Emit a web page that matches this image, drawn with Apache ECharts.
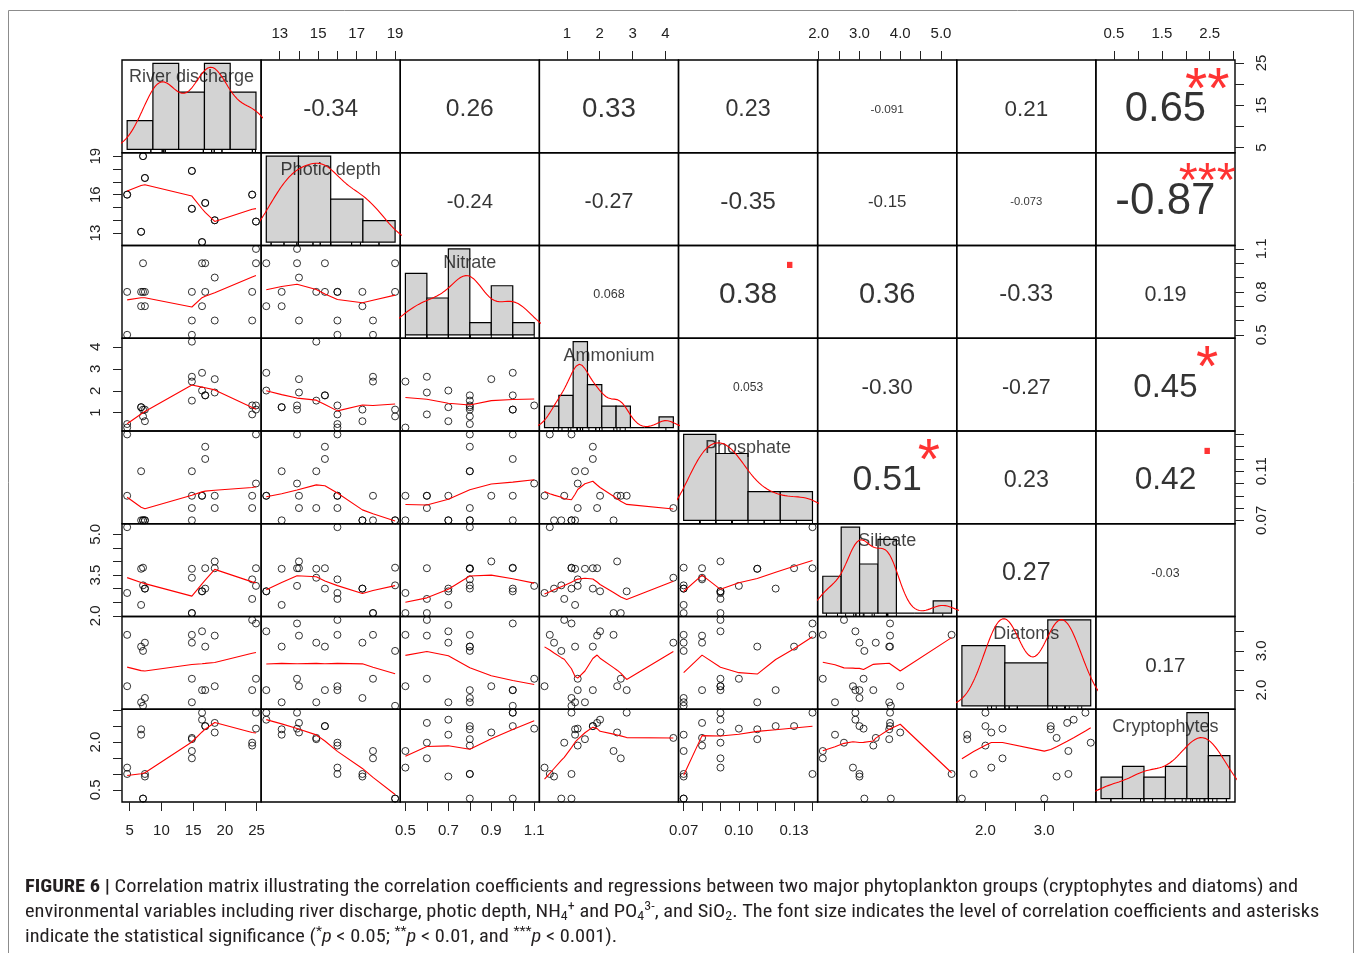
<!DOCTYPE html>
<html><head><meta charset="utf-8">
<script src="https://cdn.jsdelivr.net/npm/echarts@6.0.0/dist/echarts.min.js"></script>
<style>html,body{margin:0;padding:0;background:#fff}#c{width:1358px;height:953px}</style>
</head><body><div id="c"></div>
<script>
// ---------------- data (one value per sample) ----------------
const varNames = ['River discharge','Photic depth','Nitrate','Ammonium','Phosphate','Silicate','Diatoms','Cryptophytes'];
const riverDischarge = [16.4,16.4,24.9,24.9,18.4,18.4,16.9,16.9,6.8,6.8,14.8,14.8,24.3,24.3,14.8,14.8,4.6,4.6,7.4,7.4,7.1,7.1];
const photicDepth    = [12.3,12.3,13.9,13.9,14.0,14.0,15.35,15.35,13.1,13.1,14.9,14.9,16.0,16.0,17.85,17.85,16.0,16.0,17.3,17.3,19.0,19.0];
const nitrate        = [1.0,0.7,1.0,1.1,0.6,0.9,1.0,0.8,0.8,0.7,0.8,null,0.6,0.8,0.5,0.6,0.5,0.8,0.8,0.7,0.8,1.0];
const ammonium       = [2.82,2.01,1.14,1.33,1.92,2.53,1.79,1.79,1.25,1.25,1.55,4.24,0.92,1.33,2.42,2.64,0.32,0.48,1.14,0.61,0.83,1.14];
const phosphate      = [0.09,0.09,0.14,0.10,0.08,0.09,0.12,0.13,0.11,0.07,0.11,0.08,0.09,0.08,0.07,0.09,0.09,0.14,0.07,0.07,0.07,0.07];
const silicate       = [2.9,2.9,3.75,3.1,3.75,4.0,3.0,3.75,3.73,2.40,3.73,3.4,2.62,3.34,2.10,2.10,2.84,5.26,3.0,3.0,3.12,3.77];
const diatoms        = [2.0,3.50,3.70,2.29,3.39,2.10,2.0,3.11,3.11,1.69,1.69,3.21,3.79,2.0,3.41,2.29,2.10,3.41,1.80,3.21,3.0,1.60];
const cryptophytes   = [2.92,2.70,2.92,2.42,2.60,2.30,2.50,2.50,2.40,2.23,2.09,2.13,1.98,1.89,1.72,1.49,1.20,1.00,1.00,0.92,0.23,0.23];

// histogram breaks and counts (diagonal panels)
const riverBreaks = [0,5,10,15,20,25],                 riverCounts = [2,6,4,6,4];
const photicBreaks = [12,14,16,18,20],                 photicCounts = [8,8,4,2];
const nitrateBreaks = [0.5,0.6,0.7,0.8,0.9,1.0,1.1],   nitrateCounts = [5,3,7,1,4,1];
const ammoniumBreaks = [0,0.5,1,1.5,2,2.5,3,3.5,4,4.5], ammoniumCounts = [2,3,8,4,2,2,0,0,1];
const phosphateBreaks = [0.06,0.08,0.10,0.12,0.14],    phosphateCounts = [9,7,3,3];
const silicateBreaks = [2,2.5,3,3.5,4,4.5,5,5.5],      silicateCounts = [3,7,4,6,0,0,1];
const diatomsBreaks = [1,2,3,4],                       diatomsCounts = [7,5,10];
const cryptoBreaks = [0,0.5,1,1.5,2,2.5,3],            cryptoCounts = [2,3,2,3,8,4];

// correlation coefficients (upper triangle, row by row) and significance marks
const corrRow1 = ['-0.34','0.26','0.33','0.23','-0.091','0.21','0.65'];
const corrRow2 = ['-0.24','-0.27','-0.35','-0.15','-0.073','-0.87'];
const corrRow3 = ['0.068','0.38','0.36','-0.33','0.19'];
const corrRow4 = ['0.053','-0.30','-0.27','0.45'];
const corrRow5 = ['0.51','0.23','0.42'];
const corrRow6 = ['0.27','-0.03'];
const corrRow7 = ['0.17'];
const sigRow1 = ['','','','','','','**'];
const sigRow2 = ['','','','','','***'];
const sigRow3 = ['','.','','',''];
const sigRow4 = ['','','','*'];
const sigRow5 = ['*','','.'];
const sigRow6 = ['',''];
const sigRow7 = [''];

// axis ticks and labels
const riverTicks = [5,10,15,20,25],            riverXLabels = [5,10,15,20,25],       riverYLabels = [5,15,25];
const photicTicks = [13,14,15,16,17,18,19],    photicXLabels = [13,15,17,19],        photicYLabels = [13,16,19];
const nitrateTicks = [0.5,0.6,0.7,0.8,0.9,1.0,1.1], nitrateXLabels = [0.5,0.7,0.9,1.1], nitrateYLabels = [0.5,0.8,1.1];
const ammoniumTicks = [1,2,3,4],               ammoniumXLabels = [1,2,3,4],          ammoniumYLabels = [1,2,3,4];
const phosphateTicks = [0.07,0.08,0.09,0.10,0.11,0.12,0.13,0.14], phosphateXLabels = [0.07,0.10,0.13], phosphateYLabels = [0.07,0.11];
const silicateTicks = [2,2.5,3,3.5,4,4.5,5],   silicateXLabels = [2,3,4,5],          silicateYLabels = [2,3.5,5];
const diatomsTicks = [2,2.5,3,3.5],            diatomsXLabels = [2,3],               diatomsYLabels = [2,3];
const cryptoTicks = [0.5,1,1.5,2,2.5,3],       cryptoXLabels = [0.5,1.5,2.5],        cryptoYLabels = [0.5,2];
const labelDecimals = [0,0,1,0,2,1,1,1];

// ---------------- helpers ----------------
const vars = [riverDischarge, photicDepth, nitrate, ammonium, phosphate, silicate, diatoms, cryptophytes];
const breaksAll = [riverBreaks, photicBreaks, nitrateBreaks, ammoniumBreaks, phosphateBreaks, silicateBreaks, diatomsBreaks, cryptoBreaks];
const countsAll = [riverCounts, photicCounts, nitrateCounts, ammoniumCounts, phosphateCounts, silicateCounts, diatomsCounts, cryptoCounts];
const corrRows = [corrRow1, corrRow2, corrRow3, corrRow4, corrRow5, corrRow6, corrRow7];
const sigRows = [sigRow1, sigRow2, sigRow3, sigRow4, sigRow5, sigRow6, sigRow7];
const ticksAll = [riverTicks, photicTicks, nitrateTicks, ammoniumTicks, phosphateTicks, silicateTicks, diatomsTicks, cryptoTicks];
const xLabAll = [riverXLabels, photicXLabels, nitrateXLabels, ammoniumXLabels, phosphateXLabels, silicateXLabels, diatomsXLabels, cryptoXLabels];
const yLabAll = [riverYLabels, photicYLabels, nitrateYLabels, ammoniumYLabels, phosphateYLabels, silicateYLabels, diatomsYLabels, cryptoYLabels];

const FONT = '"Liberation Sans", Arial, Helvetica, sans-serif';
const CAPFONT = '"Liberation Sans Narrow", "Roboto Condensed", "DejaVu Sans Condensed", "Liberation Sans", sans-serif';
const PW = (1235 - 122) / 8, PH = (802 - 60) / 8, L0 = 122, T0 = 60;

const ctx2d = document.createElement('canvas').getContext('2d');
function textW(txt, size, fam, weight, style) {
  ctx2d.font = (style || 'normal') + ' ' + (weight || 'normal') + ' ' + size + 'px ' + (fam || FONT);
  return ctx2d.measureText(txt).width;
}
const isNum = v => v !== null && v !== undefined && isFinite(v);
function usrRange(a) {
  const f = a.filter(isNum); const mn = Math.min(...f), mx = Math.max(...f), r = mx - mn;
  return [mn - 0.04 * r, mx + 0.04 * r];
}
function quantile(sorted, p) {
  const h = (sorted.length - 1) * p, lo = Math.floor(h), hi = Math.ceil(h);
  return sorted[lo] + (h - lo) * (sorted[hi] - sorted[lo]);
}
function density(a) {
  const x = a.filter(isNum); const n = x.length;
  const mean = x.reduce((s, v) => s + v, 0) / n;
  const sd = Math.sqrt(x.reduce((s, v) => s + (v - mean) * (v - mean), 0) / (n - 1));
  const s = x.slice().sort((p, q) => p - q);
  const iqr = quantile(s, 0.75) - quantile(s, 0.25);
  let lo = Math.min(sd, iqr / 1.34); if (!(lo > 0)) lo = sd || 1;
  const bw = 0.9 * lo * Math.pow(n, -0.2);
  const from = s[0] - 3 * bw, to = s[n - 1] + 3 * bw, pts = [];
  for (let k = 0; k < 512; k++) {
    const t = from + (to - from) * k / 511; let d = 0;
    for (const v of x) { const z = (t - v) / bw; d += Math.exp(-0.5 * z * z); }
    pts.push([t, d / (n * bw * Math.sqrt(2 * Math.PI))]);
  }
  return pts;
}
// port of R's clowess (stats::lowess)
function lowess(x, y, f, nsteps) {
  const n = x.length;
  const ys = new Array(n).fill(0), rw = new Array(n).fill(0), res = new Array(n).fill(0);
  if (n < 2) return y.slice();
  const delta = 0.01 * (x[n - 1] - x[0]);
  const ns = Math.max(2, Math.min(n, Math.floor(f * n + 1e-7)));
  const X = i => x[i - 1], Y = i => y[i - 1];
  function lowest(xs, nleft, nright, userw) {
    const range = X(n) - X(1);
    const h = Math.max(xs - X(nleft), X(nright) - xs);
    const h9 = 0.999 * h, h1 = 0.001 * h;
    let a = 0, j = nleft;
    while (j <= n) {
      res[j - 1] = 0;
      const r = Math.abs(X(j) - xs);
      if (r <= h9) {
        res[j - 1] = r <= h1 ? 1 : Math.pow(1 - Math.pow(r / h, 3), 3);
        if (userw) res[j - 1] *= rw[j - 1];
        a += res[j - 1];
      } else if (X(j) > xs) break;
      j++;
    }
    const nrt = j - 1;
    if (a <= 0) return null;
    for (j = nleft; j <= nrt; j++) res[j - 1] /= a;
    if (h > 0) {
      a = 0;
      for (j = nleft; j <= nrt; j++) a += res[j - 1] * X(j);
      let b = xs - a, c = 0;
      for (j = nleft; j <= nrt; j++) c += res[j - 1] * (X(j) - a) * (X(j) - a);
      if (Math.sqrt(c) > 0.001 * range) {
        b /= c;
        for (j = nleft; j <= nrt; j++) res[j - 1] *= (b * (X(j) - a) + 1);
      }
    }
    let v = 0;
    for (j = nleft; j <= nrt; j++) v += res[j - 1] * Y(j);
    return v;
  }
  let iter = 1;
  while (iter <= nsteps + 1) {
    let nleft = 1, nright = ns, last = 0, i = 1;
    for (;;) {
      if (nright < n) {
        const d1 = X(i) - X(nleft), d2 = X(nright + 1) - X(i);
        if (d1 > d2) { nleft++; nright++; continue; }
      }
      const v = lowest(X(i), nleft, nright, iter > 1);
      ys[i - 1] = v === null ? Y(i) : v;
      if (last < i - 1) {
        const denom = X(i) - X(last);
        for (let j = last + 1; j < i; j++) {
          const alpha = (X(j) - X(last)) / denom;
          ys[j - 1] = alpha * ys[i - 1] + (1 - alpha) * ys[last - 1];
        }
      }
      last = i;
      const cut = X(last) + delta;
      for (i = last + 1; i <= n; i++) {
        if (X(i) > cut) break;
        if (X(i) === X(last)) { ys[i - 1] = ys[last - 1]; last = i; }
      }
      i = Math.max(last + 1, i - 1);
      if (last >= n) break;
    }
    for (let k = 0; k < n; k++) res[k] = y[k] - ys[k];
    let sc = 0; for (let k = 0; k < n; k++) sc += Math.abs(res[k]); sc /= n;
    if (iter > nsteps) break;
    for (let k = 0; k < n; k++) rw[k] = Math.abs(res[k]);
    const srt = rw.slice().sort((p, q) => p - q);
    const m1 = Math.floor(n / 2);
    const cmad = (n % 2 === 0) ? 3 * (srt[m1] + srt[n - m1 - 1]) : 6 * srt[m1];
    if (cmad < 1e-7 * sc) break;
    const c9 = 0.999 * cmad, c1 = 0.001 * cmad;
    for (let k = 0; k < n; k++) {
      const r = Math.abs(res[k]);
      rw[k] = r <= c1 ? 1 : (r <= c9 ? Math.pow(1 - Math.pow(r / cmad, 2), 2) : 0);
    }
    iter++;
  }
  return ys;
}

// ---------------- build option ----------------
const grids = [], xAxes = [], yAxes = [], series = [];
const usrs = vars.map(usrRange);
const AX_FS = 15, AX_COLOR = '#222';
const hidden = (gi, mn, mx, pos) => ({ gridIndex: gi, type: 'value', min: mn, max: mx, show: false, position: pos,
  axisLine: { onZero: false }, splitLine: { show: false } });
function visAxis(gi, mn, mx, pos, v, labels, isY) {
  const ax = { gridIndex: gi, type: 'value', min: mn, max: mx, show: true, position: pos,
    axisLine: { show: false, onZero: false }, splitLine: { show: false },
    axisTick: { show: true, inside: false, length: 9, lineStyle: { color: AX_COLOR, width: 1 }, customValues: ticksAll[v] },
    axisLabel: { show: true, customValues: labels, color: AX_COLOR, fontSize: AX_FS, fontFamily: FONT,
      margin: isY ? 19 : (pos === 'top' ? 19 : 21), hideOverlap: false,
      formatter: val => Number(val).toFixed(labelDecimals[v]) } };
  if (isY) ax.axisLabel.rotate = 90;
  return ax;
}

let labFs = 0;
{ let mx = 0; for (const nm of varNames) mx = Math.max(mx, textW(nm, 100)); labFs = 0.9 * PW / (mx / 100); }

for (let r = 0; r < 8; r++) {
  for (let c = 0; c < 8; c++) {
    const gi = grids.length;
    grids.push({ left: L0 + c * PW, top: T0 + r * PH, width: PW, height: PH, show: true,
      borderColor: '#000', borderWidth: 1.4, backgroundColor: 'rgba(0,0,0,0)', containLabel: false, outerBoundsMode: 'none' });
    let xr, yr;
    if (r > c) { xr = usrs[c]; yr = usrs[r]; }
    else if (r < c) { xr = [0, 1]; yr = [0, 1]; }
    else {
      const b = breaksAll[r], k = countsAll[r], N = k.reduce((s, v) => s + v, 0);
      const dens = k.map((cnt, i) => cnt / (N * (b[i + 1] - b[i])));
      const maxD = Math.max(...dens), span = b[b.length - 1] - b[0];
      xr = [b[0] - 0.04 * span, b[b.length - 1] + 0.04 * span];
      yr = [-0.04 * maxD, 1.04 * maxD];
    }
    const xi = xAxes.length; xAxes.push(hidden(gi, xr[0], xr[1], 'bottom'));
    const yi = yAxes.length; yAxes.push(hidden(gi, yr[0], yr[1], 'left'));

    // visible axes of the pairs layout
    if (r === 7 && c % 2 === 0) xAxes.push(visAxis(gi, usrs[c][0], usrs[c][1], 'bottom', c, xLabAll[c], false));
    if (r === 0 && c % 2 === 1) xAxes.push(visAxis(gi, usrs[c][0], usrs[c][1], 'top', c, xLabAll[c], false));
    if (c === 0 && r % 2 === 1) yAxes.push(visAxis(gi, usrs[r][0], usrs[r][1], 'left', r, yLabAll[r], true));
    if (c === 7 && r % 2 === 0) yAxes.push(visAxis(gi, usrs[r][0], usrs[r][1], 'right', r, yLabAll[r], true));

    if (r > c) {
      const pts = [];
      for (let k = 0; k < vars[c].length; k++) if (isNum(vars[c][k]) && isNum(vars[r][k])) pts.push([vars[c][k], vars[r][k]]);
      series.push({ type: 'scatter', xAxisIndex: xi, yAxisIndex: yi, data: pts, symbol: 'circle', symbolSize: 7,
        silent: true, itemStyle: { color: 'rgba(0,0,0,0)', borderColor: '#000', borderWidth: 1 } });
      const srt = pts.slice().sort((p, q) => p[0] - q[0]);
      const fit = lowess(srt.map(p => p[0]), srt.map(p => p[1]), 2 / 3, 3);
      series.push({ type: 'line', xAxisIndex: xi, yAxisIndex: yi, data: srt.map((p, k) => [p[0], fit[k]]),
        showSymbol: false, silent: true, clip: true, lineStyle: { color: '#ff0000', width: 1.1 } });
    } else if (r < c) {
      const txt = corrRows[r][c - r - 1], sig = sigRows[r][c - r - 1];
      const rr = Math.abs(parseFloat(txt));
      const base = 0.8 * PW / (textW(txt, 100) / 100);
      const fs = base * (rr + 0.3) / 1.3;
      const data = [{ value: [0.5, 0.5], label: { show: true, position: 'inside', formatter: txt, fontSize: fs,
        fontFamily: FONT, color: '#000', offset: [0, 3] } }];
      if (sig) {
        const off = sig === '.' ? (-0.29 * base + 5) : (0.25 * base - 1);
        data.push({ value: [0.8, 0.8], label: { show: true, position: 'inside', formatter: sig, fontSize: base,
          fontFamily: FONT, color: '#ff0000', offset: [0, off] } });
      }
      series.push({ type: 'scatter', xAxisIndex: xi, yAxisIndex: yi, symbolSize: 0, silent: true, data });
    } else {
      const b = breaksAll[r], k = countsAll[r], N = k.reduce((s, v) => s + v, 0);
      const bars = k.map((cnt, i) => [b[i], b[i + 1], cnt / (N * (b[i + 1] - b[i]))]);
      series.push({ type: 'custom', xAxisIndex: xi, yAxisIndex: yi, silent: true, data: bars,
        renderItem: (params, api) => {
          const p0 = api.coord([api.value(0), 0]), p1 = api.coord([api.value(1), api.value(2)]);
          return { type: 'rect', shape: { x: p0[0], y: p1[1], width: p1[0] - p0[0], height: p0[1] - p1[1] },
            style: { fill: '#d3d3d3', stroke: '#000', lineWidth: 1.2 } };
        } });
      series.push({ type: 'line', xAxisIndex: xi, yAxisIndex: yi, data: density(vars[r]), showSymbol: false,
        silent: true, clip: true, lineStyle: { color: '#ff0000', width: 1.1 } });
      const ymin = yr[0];
      series.push({ type: 'custom', xAxisIndex: xi, yAxisIndex: yi, silent: true,
        data: vars[r].filter(isNum).map(v => [v]),
        renderItem: (params, api) => {
          const p = api.coord([api.value(0), ymin]);
          return { type: 'line', shape: { x1: p[0], y1: p[1], x2: p[0], y2: p[1] - 3 }, style: { stroke: '#000', lineWidth: 1 } };
        } });
      series.push({ type: 'scatter', xAxisIndex: xi, yAxisIndex: yi, symbolSize: 0, silent: true,
        data: [{ value: [(xr[0] + xr[1]) / 2, yr[0] + (yr[1] - yr[0]) * 5 / 6],
          label: { show: true, position: 'inside', formatter: varNames[r], fontSize: labFs, fontFamily: FONT, color: '#111', offset: [0, 2] } }] });
    }
  }
}

// ---------------- caption ----------------
const CAP_FS = 17.5, CAP_SUB = 12, CAP_COLOR = '#231f20';
const capLine1 = [['b', 'FIGURE 6 | '], ['n', 'Correlation matrix illustrating the correlation coefficients and regressions between two major phytoplankton groups (cryptophytes and diatoms) and']];
const capLine2 = [['n', 'environmental variables including river discharge, photic depth, NH'], ['sub', '4'], ['sup', '+'], ['n', ' and PO'], ['sub', '4'], ['sup', '3-'],
  ['n', ', and SiO'], ['sub', '2'], ['n', '. The font size indicates the level of correlation coefficients and asterisks']];
const capLine3 = [['n', 'indicate the statistical significance ('], ['sup', '*'], ['i', 'p'], ['n', ' < 0.05; '], ['sup', '**'], ['i', 'p'], ['n', ' < 0.01, and '],
  ['sup', '***'], ['i', 'p'], ['n', ' < 0.001).']];
function segFont(kind) {
  return { size: (kind === 'sub' || kind === 'sup') ? CAP_SUB : CAP_FS, weight: kind === 'b' ? 'bold' : 'normal', style: kind === 'i' ? 'italic' : 'normal' };
}
function lineWidth(line) { return line.reduce((s, [k, t]) => { const f = segFont(k); return s + textW(t, f.size, CAPFONT, f.weight, f.style); }, 0); }
const capScale = (1298 - 25) / lineWidth(capLine1);
const graphics = [{ type: 'rect', silent: true, shape: { x: 8.5, y: 10.5, width: 1345, height: 1000 }, style: { fill: 'none', stroke: '#8c8c8c', lineWidth: 1 } }];
[[capLine1, 887.5], [capLine2, 912.5], [capLine3, 937.5]].forEach(([line, yc]) => {
  let x = 25;
  for (const [k, t] of line) {
    const f = segFont(k);
    const dy = k === 'sup' ? -5.5 : (k === 'sub' ? 4.5 : 0);
    graphics.push({ type: 'text', silent: true, x: x, y: yc + dy, scaleX: capScale,
      style: { text: t, fontFamily: CAPFONT, fontSize: f.size, fontWeight: f.weight, fontStyle: f.style, fill: CAP_COLOR, verticalAlign: 'middle', align: 'left' } });
    x += textW(t, f.size, CAPFONT, f.weight, f.style) * capScale;
  }
});

const chart = echarts.init(document.getElementById('c'), null, { renderer: 'canvas' });
chart.setOption({ animation: false, backgroundColor: '#fff', grid: grids, xAxis: xAxes, yAxis: yAxes, series, graphic: graphics });
</script></body></html>
